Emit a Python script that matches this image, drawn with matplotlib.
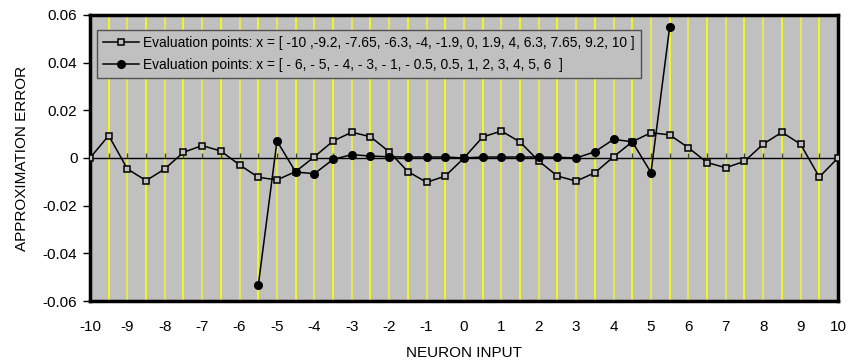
import numpy as np
import matplotlib.pyplot as plt

plt.rcParams['font.family'] = ['Liberation Sans', 'DejaVu Sans']
plt.rcParams['axes.unicode_minus'] = False

# square series: evaluated every 0.5 from -10 to 10
x_sq = np.arange(-10, 10.5, 0.5)
err_sq = [0.0, 0.0094, -0.0046, -0.0095, -0.0046, 0.0024, 0.0052, 0.0029, -0.0029, -0.0081,
          -0.0092, -0.0057, 0.0005, 0.0071, 0.0108, 0.0089, 0.0026, -0.0057, -0.0102, -0.0076,
          0.0, 0.0088, 0.0113, 0.0067, -0.0013, -0.0076, -0.0097, -0.0062, 0.0005, 0.0068,
          0.0106, 0.0097, 0.0043, -0.0019, -0.0041, -0.0014, 0.0058, 0.0108, 0.0058, -0.0080,
          0.0]

# circle series: -5.5 .. 5.5
x_ci = np.arange(-5.5, 6.0, 0.5)
err_ci = [-0.0534, 0.0071, -0.0059, -0.0066, -0.0006, 0.0014, 0.0008, 0.0005, 0.0004, 0.0004,
          0.0004, 0.0, 0.0004, 0.0004, 0.0004, 0.0004, 0.0003, 0.0, 0.0026, 0.0078,
          0.0068, -0.0061, 0.0549]

lab_sq = 'Evaluation points: x = [ -10 ,-9.2, -7.65, -6.3, -4, -1.9, 0, 1.9, 4, 6.3, 7.65, 9.2, 10 ]'
lab_ci = 'Evaluation points: x = [ - 6, - 5, - 4, - 3, - 1, - 0.5, 0.5, 1, 2, 3, 4, 5, 6  ]'

xticks = np.arange(-10, 11, 1)
yticks = [-0.06, -0.04, -0.02, 0, 0.02, 0.04, 0.06]
ytick_labels = ['-0.06', '-0.04', '-0.02', '0', '0.02', '0.04', '0.06']

bg = '#C0C0C0'
fig = plt.figure(figsize=(8.49, 3.64), dpi=100)
ax = fig.add_axes([0.106, 0.173, 0.881, 0.786])
ax.set_facecolor(bg)

ax.set_xlim(-10, 10)
ax.set_ylim(-0.06, 0.06)
ax.set_xticks(xticks)
ax.set_xticks(np.arange(-9.5, 10, 1), minor=True)
ax.set_yticks(yticks)
ax.set_yticklabels(ytick_labels)
ax.grid(True, which='major', axis='x', color='#F0F040', lw=1.2)
ax.grid(True, which='minor', axis='x', color='#FFFF00', lw=1.2)
ax.set_axisbelow(True)

ax.tick_params(axis='x', which='both', length=0, labelsize=11, pad=13.5)
ax.tick_params(axis='y', length=5, width=1, labelsize=11, pad=4)

# category axis crossing at zero with its little ticks
ax.axhline(0, color='black', lw=1, zorder=1.5)
ax.vlines(np.arange(-10, 10.5, 0.5), 0, 0.0019, color='#444422', lw=1, zorder=1.5)

for s in ax.spines.values():
    s.set_linewidth(2.5)
    s.set_color('black')

ax.plot(x_sq, err_sq, color='black', lw=1.1, marker='s', ms=5, mfc=bg, mec='black', mew=1.1,
        label=lab_sq, zorder=3)
ax.plot(x_ci, err_ci, color='black', lw=1.1, marker='o', ms=5.5, mfc='black', mec='black',
        label=lab_ci, zorder=3)

leg = ax.legend(loc='upper left', bbox_to_anchor=(0.009, 0.948), borderaxespad=0,
                fontsize=9.9, fancybox=False, framealpha=1, facecolor=bg, edgecolor='#505050',
                handlelength=2.6, handletextpad=0.3, labelspacing=0.55, borderpad=0.45)
leg.get_frame().set_linewidth(1.0)

ax.set_xlabel('NEURON INPUT', fontsize=11, labelpad=9)
ax.set_ylabel('APPROXIMATION ERROR', fontsize=11, labelpad=10)

fig.savefig('out.png', dpi=100)
